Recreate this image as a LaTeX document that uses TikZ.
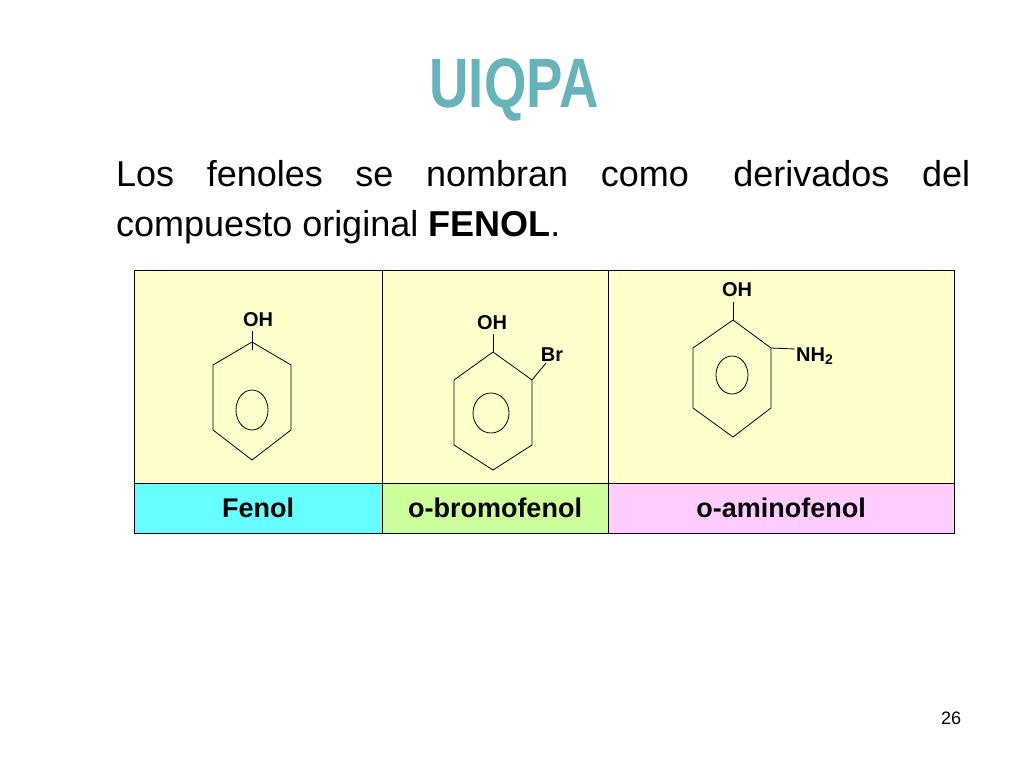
\documentclass[tikz,border=0pt]{standalone}
\usepackage{fontspec}
\setmainfont{Liberation Sans}
\definecolor{teal1}{RGB}{102,180,185}
\definecolor{cellY}{RGB}{255,255,204}
\definecolor{cellC}{RGB}{102,255,255}
\definecolor{cellG}{RGB}{204,255,153}
\definecolor{cellP}{RGB}{255,204,255}
\begin{document}
\begin{tikzpicture}[x=1pt,y=-1pt,
  cell/.style={draw=black,line width=1pt},
  lab/.style={font=\fontsize{27}{30}\selectfont\bfseries},
  atom/.style={font=\fontsize{20}{22}\selectfont\bfseries,inner sep=0pt},
  bond/.style={line width=0.8pt},
  bodytxt/.style={anchor=base west,inner sep=0pt,font=\fontsize{36}{40}\selectfont}]
\useasboundingbox (0,0) rectangle (1024,768);
\node (title) at (514,90) {\fontsize{70}{72}\selectfont\bfseries\color{teal1}\scalebox{0.78}[1]{UIQPA}};
\node[bodytxt] (body1) at (116,186) {\makebox[854pt][s]{Los\hfill fenoles\hfill se\hfill nombran\hfill como\hfill\hspace{12pt}derivados\hfill del}};
\node[bodytxt] (body2) at (116,236) {compuesto original \textbf{FENOL}.};
% table
\fill[cellY] (134,270) rectangle (954,483);
\fill[cellC] (134,483) rectangle (382,533);
\fill[cellG] (382,483) rectangle (608,533);
\fill[cellP] (608,483) rectangle (954,533);
\draw[cell] (134,270) rectangle (954,533);
\draw[cell] (134,483) -- (954,483);
\draw[cell] (382,270) -- (382,533);
\draw[cell] (608,270) -- (608,533);
\node[lab] (l1) at (258,508) {Fenol};
\node[lab] (l2) at (495,508) {o-bromofenol};
\node[lab] (l3) at (781,508) {o-aminofenol};
% molecule 1
\draw[bond] (252,342) -- (291,365) -- (291,430) -- (252,460) -- (213,430) -- (213,365) -- cycle;
\draw[bond] (252,410) ellipse (16 and 20);
\node[atom] (oh1) at (258,320) {OH};
\draw[bond] (252,331) -- (252,350);
% molecule 2
\draw[bond] (493,352) -- (532,380) -- (532,445) -- (493,470) -- (454,445) -- (454,380) -- cycle;
\draw[bond] (491,413) ellipse (18 and 20);
\node[atom] (oh2) at (492,323) {OH};
\draw[bond] (493,334) -- (493,352);
\node[atom] (br) at (552,355) {Br};
\draw[bond] (532,380) -- (546,363);
% molecule 3
\draw[bond] (733,320) -- (771,348) -- (771,408) -- (733,437) -- (693,408) -- (693,348) -- cycle;
\draw[bond] (732,375) ellipse (16 and 19);
\node[atom] (oh3) at (737,290) {OH};
\draw[bond] (733,302) -- (733,320);
\node[atom,anchor=west] (nh2) at (796,356) {NH\textsubscript{2}};
\draw[bond] (771,348) -- (795,349);
\node (pg) at (951,718) {\fontsize{18}{20}\selectfont 26};
\end{tikzpicture}
\end{document}
